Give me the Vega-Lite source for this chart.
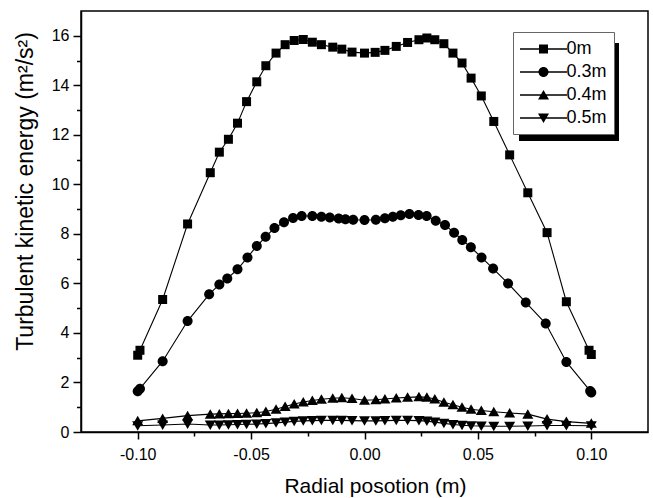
{
  "$schema": "https://vega.github.io/schema/vega-lite/v6.json",
  "width": 567,
  "height": 421,
  "autosize": {"type": "none"},
  "padding": {"left": 81, "top": 11, "right": 5, "bottom": 66},
  "background": "white",
  "data": {"values": [
    {"s":"0m","x":-0.100,"y":3.10},{"s":"0m","x":-0.099,"y":3.30},{"s":"0m","x":-0.089,"y":5.35},{"s":"0m","x":-0.078,"y":8.40},
    {"s":"0m","x":-0.068,"y":10.47},{"s":"0m","x":-0.064,"y":11.30},{"s":"0m","x":-0.060,"y":11.82},{"s":"0m","x":-0.056,"y":12.47},
    {"s":"0m","x":-0.052,"y":13.34},{"s":"0m","x":-0.0475,"y":14.14},{"s":"0m","x":-0.0435,"y":14.79},{"s":"0m","x":-0.039,"y":15.30},
    {"s":"0m","x":-0.035,"y":15.64},{"s":"0m","x":-0.031,"y":15.81},{"s":"0m","x":-0.027,"y":15.85},{"s":"0m","x":-0.023,"y":15.74},
    {"s":"0m","x":-0.019,"y":15.64},{"s":"0m","x":-0.014,"y":15.54},{"s":"0m","x":-0.010,"y":15.46},{"s":"0m","x":-0.0055,"y":15.34},
    {"s":"0m","x":0.000,"y":15.30},{"s":"0m","x":0.0047,"y":15.33},{"s":"0m","x":0.009,"y":15.41},{"s":"0m","x":0.014,"y":15.57},
    {"s":"0m","x":0.019,"y":15.73},{"s":"0m","x":0.024,"y":15.84},{"s":"0m","x":0.0275,"y":15.91},{"s":"0m","x":0.031,"y":15.84},
    {"s":"0m","x":0.035,"y":15.68},{"s":"0m","x":0.039,"y":15.30},{"s":"0m","x":0.043,"y":14.90},{"s":"0m","x":0.047,"y":14.29},
    {"s":"0m","x":0.0515,"y":13.57},{"s":"0m","x":0.057,"y":12.54},{"s":"0m","x":0.064,"y":11.19},{"s":"0m","x":0.072,"y":9.66},
    {"s":"0m","x":0.0805,"y":8.05},{"s":"0m","x":0.089,"y":5.26},{"s":"0m","x":0.099,"y":3.30},{"s":"0m","x":0.100,"y":3.13},

    {"s":"0.3m","x":-0.100,"y":1.65},{"s":"0.3m","x":-0.099,"y":1.75},{"s":"0.3m","x":-0.089,"y":2.86},{"s":"0.3m","x":-0.078,"y":4.48},
    {"s":"0.3m","x":-0.0685,"y":5.56},{"s":"0.3m","x":-0.064,"y":5.96},{"s":"0.3m","x":-0.0605,"y":6.20},{"s":"0.3m","x":-0.056,"y":6.57},
    {"s":"0.3m","x":-0.0516,"y":7.05},{"s":"0.3m","x":-0.0475,"y":7.51},{"s":"0.3m","x":-0.0436,"y":7.88},{"s":"0.3m","x":-0.0397,"y":8.24},
    {"s":"0.3m","x":-0.0355,"y":8.47},{"s":"0.3m","x":-0.0315,"y":8.64},{"s":"0.3m","x":-0.0277,"y":8.72},{"s":"0.3m","x":-0.023,"y":8.72},
    {"s":"0.3m","x":-0.019,"y":8.69},{"s":"0.3m","x":-0.0153,"y":8.66},{"s":"0.3m","x":-0.0114,"y":8.62},{"s":"0.3m","x":-0.0084,"y":8.59},
    {"s":"0.3m","x":-0.005,"y":8.57},{"s":"0.3m","x":0.000,"y":8.56},{"s":"0.3m","x":0.005,"y":8.57},{"s":"0.3m","x":0.009,"y":8.63},
    {"s":"0.3m","x":0.0125,"y":8.69},{"s":"0.3m","x":0.016,"y":8.75},{"s":"0.3m","x":0.0198,"y":8.80},{"s":"0.3m","x":0.0238,"y":8.76},
    {"s":"0.3m","x":0.0274,"y":8.72},{"s":"0.3m","x":0.0314,"y":8.53},{"s":"0.3m","x":0.0355,"y":8.36},{"s":"0.3m","x":0.0395,"y":8.05},
    {"s":"0.3m","x":0.0431,"y":7.75},{"s":"0.3m","x":0.0469,"y":7.46},{"s":"0.3m","x":0.0516,"y":7.05},{"s":"0.3m","x":0.0567,"y":6.60},
    {"s":"0.3m","x":0.0633,"y":6.00},{"s":"0.3m","x":0.0711,"y":5.23},{"s":"0.3m","x":0.0799,"y":4.38},{"s":"0.3m","x":0.089,"y":2.83},
    {"s":"0.3m","x":0.0995,"y":1.66},{"s":"0.3m","x":0.100,"y":1.60},

    {"s":"0.4m","x":-0.100,"y":0.45},{"s":"0.4m","x":-0.089,"y":0.55},{"s":"0.4m","x":-0.078,"y":0.66},{"s":"0.4m","x":-0.068,"y":0.72},
    {"s":"0.4m","x":-0.064,"y":0.73},{"s":"0.4m","x":-0.060,"y":0.74},{"s":"0.4m","x":-0.056,"y":0.75},{"s":"0.4m","x":-0.052,"y":0.76},
    {"s":"0.4m","x":-0.0475,"y":0.78},{"s":"0.4m","x":-0.0435,"y":0.83},{"s":"0.4m","x":-0.039,"y":0.92},{"s":"0.4m","x":-0.035,"y":1.03},
    {"s":"0.4m","x":-0.031,"y":1.13},{"s":"0.4m","x":-0.027,"y":1.21},{"s":"0.4m","x":-0.023,"y":1.27},{"s":"0.4m","x":-0.019,"y":1.32},
    {"s":"0.4m","x":-0.014,"y":1.36},{"s":"0.4m","x":-0.010,"y":1.38},{"s":"0.4m","x":-0.0055,"y":1.35},{"s":"0.4m","x":0.000,"y":1.28},
    {"s":"0.4m","x":0.005,"y":1.30},{"s":"0.4m","x":0.009,"y":1.33},{"s":"0.4m","x":0.014,"y":1.37},{"s":"0.4m","x":0.019,"y":1.40},
    {"s":"0.4m","x":0.024,"y":1.42},{"s":"0.4m","x":0.0275,"y":1.40},{"s":"0.4m","x":0.031,"y":1.33},{"s":"0.4m","x":0.035,"y":1.20},
    {"s":"0.4m","x":0.039,"y":1.10},{"s":"0.4m","x":0.043,"y":1.00},{"s":"0.4m","x":0.047,"y":0.92},{"s":"0.4m","x":0.0515,"y":0.87},
    {"s":"0.4m","x":0.057,"y":0.82},{"s":"0.4m","x":0.064,"y":0.77},{"s":"0.4m","x":0.072,"y":0.72},{"s":"0.4m","x":0.0805,"y":0.52},
    {"s":"0.4m","x":0.089,"y":0.42},{"s":"0.4m","x":0.100,"y":0.35},

    {"s":"0.5m","x":-0.100,"y":0.25},{"s":"0.5m","x":-0.089,"y":0.28},{"s":"0.5m","x":-0.078,"y":0.32},{"s":"0.5m","x":-0.068,"y":0.28},
    {"s":"0.5m","x":-0.064,"y":0.28},{"s":"0.5m","x":-0.060,"y":0.29},{"s":"0.5m","x":-0.056,"y":0.30},{"s":"0.5m","x":-0.052,"y":0.31},
    {"s":"0.5m","x":-0.0475,"y":0.32},{"s":"0.5m","x":-0.0435,"y":0.34},{"s":"0.5m","x":-0.039,"y":0.37},{"s":"0.5m","x":-0.035,"y":0.40},
    {"s":"0.5m","x":-0.031,"y":0.43},{"s":"0.5m","x":-0.027,"y":0.45},{"s":"0.5m","x":-0.023,"y":0.46},{"s":"0.5m","x":-0.019,"y":0.47},
    {"s":"0.5m","x":-0.014,"y":0.47},{"s":"0.5m","x":-0.010,"y":0.47},{"s":"0.5m","x":-0.0055,"y":0.46},{"s":"0.5m","x":0.000,"y":0.45},
    {"s":"0.5m","x":0.005,"y":0.45},{"s":"0.5m","x":0.009,"y":0.46},{"s":"0.5m","x":0.014,"y":0.47},{"s":"0.5m","x":0.019,"y":0.47},
    {"s":"0.5m","x":0.024,"y":0.46},{"s":"0.5m","x":0.0275,"y":0.44},{"s":"0.5m","x":0.031,"y":0.40},{"s":"0.5m","x":0.035,"y":0.35},
    {"s":"0.5m","x":0.039,"y":0.30},{"s":"0.5m","x":0.043,"y":0.27},{"s":"0.5m","x":0.047,"y":0.25},{"s":"0.5m","x":0.0515,"y":0.24},
    {"s":"0.5m","x":0.057,"y":0.23},{"s":"0.5m","x":0.064,"y":0.23},{"s":"0.5m","x":0.072,"y":0.24},{"s":"0.5m","x":0.0805,"y":0.26},
    {"s":"0.5m","x":0.089,"y":0.26},{"s":"0.5m","x":0.100,"y":0.25}
  ]},
  "layer": [
    {
      "mark": {"type": "line", "color": "black", "strokeWidth": 1.1},
      "encoding": {
        "x": {"field": "x", "type": "quantitative", "scale": {"domain": [-0.125, 0.125], "nice": false, "zero": false},
          "axis": {"orient": "bottom", "values": [-0.1, -0.05, 0, 0.05, 0.1], "labelExpr": "replace(format(datum.value, '.2f'), '−', '-')", "ticks": true, "tickSize": 7, "labelPadding": 7,
            "title": "Radial posotion (m)", "titleFontSize": 21, "titleX": 294, "titleY": 54, "titleBaseline": "middle", "titleAlign": "center"}},
        "y": {"field": "y", "type": "quantitative", "scale": {"domain": [0, 17], "nice": false, "zero": true},
          "axis": {"orient": "left", "values": [0, 2, 4, 6, 8, 10, 12, 14, 16], "format": "d", "ticks": true, "tickSize": 8, "labelPadding": 4,
            "title": "Turbulent kinetic energy (m²/s²)", "titleFontSize": 23, "titleX": -56, "titleY": 180, "titleBaseline": "middle", "titleAlign": "center", "titleAngle": -90}},
        "detail": {"field": "s", "type": "nominal"}
      }
    },
    {
      "mark": {"type": "point", "filled": true, "color": "black", "size": 400},
      "encoding": {
        "x": {"field": "x", "type": "quantitative",
          "axis": {"orient": "bottom", "values": [-0.075, -0.025, 0.025, 0.075], "labels": false, "domain": false, "ticks": true, "tickSize": 4, "title": null}},
        "y": {"field": "y", "type": "quantitative",
          "axis": {"orient": "left", "values": [1, 3, 5, 7, 9, 11, 13, 15], "labels": false, "domain": false, "ticks": true, "tickSize": 4.5, "title": null}},
        "shape": {"field": "s", "type": "nominal",
          "scale": {"domain": ["0m", "0.3m", "0.4m", "0.5m"], "range": [
            "M-0.45,-0.45H0.45V0.45H-0.45Z",
            "M-0.5,0A0.5,0.5,0,1,1,0.5,0A0.5,0.5,0,1,1,-0.5,0Z",
            "M0,-0.5L0.55,0.45H-0.55Z",
            "M0,0.5L-0.55,-0.45H0.55Z"]},
          "legend": null
        },
        "opacity": {"datum": "a", "type": "ordinal", "scale": {"domain": ["a"], "range": [1, 1]},
          "legend": {"orient": "none", "legendX": 438, "legendY": 32, "zindex": 1, "title": null, "padding": 47,
            "fillColor": "black", "symbolSize": 0, "symbolOpacity": 0, "labelOpacity": 0, "labelFontSize": 1, "labelExpr": "''"}}
      }
    },
    {
      "transform": [{"filter": "false"}],
      "mark": {"type": "point", "filled": true, "color": "black", "size": 400},
      "encoding": {
        "shape": {"field": "s", "type": "nominal",
          "scale": {"domain": ["0m", "0.3m", "0.4m", "0.5m"], "range": [
            "M-2.35,-0.07H2.35V0.07H-2.35ZM-0.45,-0.45H0.45V0.45H-0.45Z",
            "M-2.35,-0.07H2.35V0.07H-2.35ZM-0.5,0A0.5,0.5,0,1,1,0.5,0A0.5,0.5,0,1,1,-0.5,0Z",
            "M-2.35,-0.07H2.35V0.07H-2.35ZM0,-0.5L0.55,0.45H-0.55Z",
            "M-2.35,-0.07H2.35V0.07H-2.35ZM0,0.5L-0.55,-0.45H0.55Z"]},
          "legend": {"orient": "none", "legendX": 432, "legendY": 21, "zindex": 2, "title": null,
            "fillColor": "white", "strokeColor": "#666666", "padding": 7,
            "symbolSize": 400, "symbolStrokeWidth": 0, "symbolFillColor": "black", "symbolOpacity": 1,
            "symbolOffset": 13.5, "labelOffset": 13, "labelFontSize": 18, "labelColor": "black", "rowPadding": 4}
        }
      }
    }
  ],
  "resolve": {"axis": {"x": "independent", "y": "independent"}, "scale": {"shape": "independent"}},
  "config": {
    "font": "Liberation Sans",
    "view": {"stroke": "black", "strokeWidth": 1.5},
    "axis": {"domainColor": "black", "domainWidth": 1.5, "tickColor": "black", "tickWidth": 1.5, "labelColor": "black", "labelFontSize": 16,
      "titleColor": "black", "titleFontSize": 20, "titleFontWeight": "normal", "grid": false, "labelFont": "Liberation Sans", "titleFont": "Liberation Sans"},
    "legend": {"labelFont": "Liberation Sans"}
  }
}
